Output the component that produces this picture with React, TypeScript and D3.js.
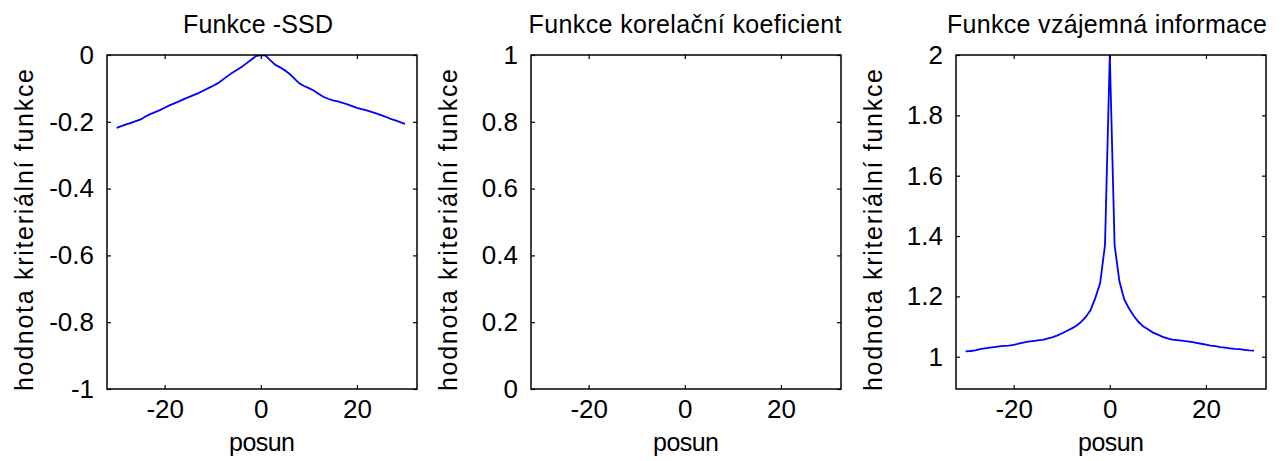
import React, { useRef, useEffect } from "react";
import * as d3 from "d3";

// posun (shift) values for every curve
const shifts = d3.range(-30, 31);

// Funkce -SSD
const ssdValues = [
	-0.218, -0.213, -0.208, -0.203, -0.198, -0.193, -0.184, -0.177, -0.171, -0.165,
	-0.158, -0.151, -0.145, -0.139, -0.132, -0.126, -0.120, -0.114, -0.107, -0.100,
	-0.093, -0.085, -0.075, -0.064, -0.054, -0.045, -0.036, -0.025, -0.014, -0.003,
	0,
	-0.002, -0.016, -0.029, -0.037, -0.046, -0.057, -0.071, -0.085, -0.093, -0.099,
	-0.106, -0.116, -0.125, -0.131, -0.136, -0.139, -0.143, -0.148, -0.153, -0.158,
	-0.162, -0.166, -0.170, -0.175, -0.180, -0.185, -0.191, -0.196, -0.201, -0.206,
];

// Funkce korelační koeficient: nothing visible inside the axes
const corrValues: number[] = [];

// Funkce vzájemná informace
const miValues = [
	1.018, 1.019, 1.021, 1.025, 1.028, 1.030, 1.032, 1.034, 1.036, 1.037,
	1.039, 1.043, 1.047, 1.050, 1.052, 1.054, 1.056, 1.060, 1.064, 1.070,
	1.077, 1.085, 1.093, 1.102, 1.115, 1.132, 1.155, 1.195, 1.245, 1.370,
	2.0,
	1.370, 1.250, 1.190, 1.160, 1.135, 1.115, 1.100, 1.090, 1.080, 1.073,
	1.066, 1.061, 1.057, 1.055, 1.053, 1.051, 1.049, 1.046, 1.043, 1.040,
	1.037, 1.035, 1.032, 1.030, 1.028, 1.026, 1.025, 1.023, 1.021, 1.020,
];

const titles = ["Funkce -SSD", "Funkce korelační koeficient", "Funkce vzájemná informace"];
const xTicks = [-20, 0, 20];
const ssdTicks = [-1, -0.8, -0.6, -0.4, -0.2, 0];
const corrTicks = [0, 0.2, 0.4, 0.6, 0.8, 1];
const miTicks = [1, 1.2, 1.4, 1.6, 1.8, 2];
const yLabel = "hodnota kriteriální funkce";
const xLabel = "posun";

const FONT = '"Liberation Sans", Arial, sans-serif';

const App = () => {
	const chartRef = useRef<SVGSVGElement>(null);

	useEffect(() => {
		const width = 1285;
		const height = 461;
		const plotW = 310;
		const top = 55;
		const bottom = 389;

		const svg = d3.select(chartRef.current).attr("width", width).attr("height", height);
		svg.selectAll("*").remove();

		const panels = [
			{ left: 107, title: titles[0], titleW: 150, titleX: 258, domain: [-1, 0], ticks: ssdTicks, values: ssdValues },
			{ left: 531, title: titles[1], titleW: 313, titleX: 685, domain: [0, 1], ticks: corrTicks, values: corrValues },
			{ left: 956, title: titles[2], titleW: 320, titleX: 1107, domain: [0.893, 2], ticks: miTicks, values: miValues },
		];

		panels.forEach((p, i) => {
			const g = svg.append("g");
			const x = d3.scaleLinear().domain([-32, 32.5]).range([p.left, p.left + plotW]);
			const y = d3.scaleLinear().domain(p.domain).range([bottom, top]);
			const fmt = (d: any) => String(d);

			g.append("rect")
				.attr("x", p.left)
				.attr("y", top)
				.attr("width", plotW)
				.attr("height", bottom - top)
				.attr("fill", "white");

			// curve
			const clipId = `clip${i}`;
			g.append("clipPath").attr("id", clipId)
				.append("rect")
				.attr("x", p.left)
				.attr("y", top)
				.attr("width", plotW)
				.attr("height", bottom - top);

			if (p.values.length > 0) {
				const line = d3.line<number>()
					.x((d, j) => x(shifts[j]))
					.y(d => y(d));
				g.append("path")
					.datum(p.values)
					.attr("clip-path", `url(#${clipId})`)
					.attr("d", line)
					.attr("fill", "none")
					.attr("stroke", "#0000ff")
					.attr("stroke-width", 1.8);
			}

			// axes, ticks pointing inward
			const bx = g.append("g")
				.attr("transform", `translate(0,${bottom})`)
				.call(d3.axisBottom(x).tickValues(xTicks).tickSize(-4).tickPadding(11).tickFormat(fmt));
			const tx = g.append("g")
				.attr("transform", `translate(0,${top})`)
				.call(d3.axisTop(x).tickValues(xTicks).tickSize(-4).tickFormat(() => ""));
			const ly = g.append("g")
				.attr("transform", `translate(${p.left},0)`)
				.call(d3.axisLeft(y).tickValues(p.ticks).tickSize(-4).tickPadding(13).tickFormat(fmt));
			const ry = g.append("g")
				.attr("transform", `translate(${p.left + plotW},0)`)
				.call(d3.axisRight(y).tickValues(p.ticks).tickSize(-4).tickFormat(() => ""));

			[bx, tx, ly, ry].forEach(a => {
				a.selectAll(".domain").remove();
				a.selectAll(".tick line").attr("stroke", "black").attr("stroke-width", 1.2);
				a.selectAll("text")
					.attr("fill", "black")
					.style("font-family", FONT)
					.style("font-size", "26px");
			});

			g.append("rect")
				.attr("x", p.left)
				.attr("y", top)
				.attr("width", plotW)
				.attr("height", bottom - top)
				.attr("fill", "none")
				.attr("stroke", "black")
				.attr("stroke-width", 1.5);

			// title
			g.append("text")
				.attr("x", p.titleX)
				.attr("y", 33)
				.attr("text-anchor", "middle")
				.attr("textLength", p.titleW)
				.attr("lengthAdjust", "spacing")
				.style("font-family", FONT)
				.style("font-size", "25px")
				.attr("fill", "black")
				.text(p.title);

			// x label
			g.append("text")
				.attr("x", p.left + plotW / 2)
				.attr("y", 451)
				.attr("text-anchor", "middle")
				.attr("textLength", 66)
				.attr("lengthAdjust", "spacing")
				.style("font-family", FONT)
				.style("font-size", "25px")
				.attr("fill", "black")
				.text(xLabel);

			// y label
			const lx = p.left - 74;
			const cy = 230;
			g.append("text")
				.attr("transform", `translate(${lx},${cy}) rotate(-90)`)
				.attr("text-anchor", "middle")
				.attr("textLength", 322)
				.attr("lengthAdjust", "spacing")
				.style("font-family", FONT)
				.style("font-size", "25px")
				.attr("fill", "black")
				.text(yLabel);
		});
	}, []);

	return (
		<div style={{ position: "absolute", left: 0, top: 0, width: 1285, height: 461, background: "white" }}>
			<svg ref={chartRef}></svg>
		</div>
	);
};

export default App;
